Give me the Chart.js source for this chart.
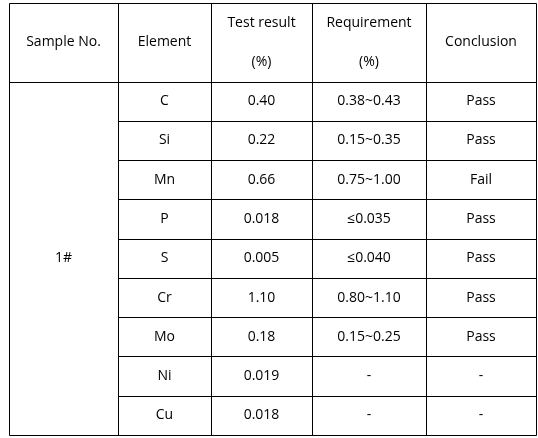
<!DOCTYPE html>
<html>
<head>
<meta charset="utf-8">
<script src="https://cdn.jsdelivr.net/npm/chart.js@4"></script>
<style>body{margin:0;background:#fff}</style>
</head>
<body>
<canvas id="tabla" width="538" height="438"></canvas>
<script>
// Datos de la tabla
var headers = [['Sample No.'], ['Element'], ['Test result', '(%)'], ['Requirement', '(%)'], ['Conclusion']];
var sampleNo = '1#';
var elements = ['C', 'Si', 'Mn', 'P', 'S', 'Cr', 'Mo', 'Ni', 'Cu'];
var results = ['0.40', '0.22', '0.66', '0.018', '0.005', '1.10', '0.18', '0.019', '0.018'];
var requirements = ['0.38~0.43', '0.15~0.35', '0.75~1.00', '≤0.035', '≤0.040', '0.80~1.10', '0.15~0.25', '-', '-'];
var conclusions = ['Pass', 'Pass', 'Fail', 'Pass', 'Pass', 'Pass', 'Pass', '-', '-'];
var colEdges = [0, 109, 202, 303, 417, 527];

var tablePlugin = {
    id: 'tabla',
    afterDraw: function(chart){
        var ctx = chart.ctx, x = chart.scales.x, y = chart.scales.y;
        var px = function(v){ return Math.round(x.getPixelForValue(v)) + 0.5; };
        var py = function(v){ return Math.round(y.getPixelForValue(v)) + 0.5; };
        var n = elements.length;
        ctx.save();
        ctx.strokeStyle = '#000';
        ctx.lineWidth = 1;
        ctx.beginPath();
        // verticales
        colEdges.forEach(function(e){ ctx.moveTo(px(e), py(0)); ctx.lineTo(px(e), py(n + 2)); });
        // horizontales
        ctx.moveTo(px(0), py(0)); ctx.lineTo(px(527), py(0));
        for (var i = 0; i <= n; i++) {
            var start = (i === 0 || i === n) ? 0 : colEdges[1];
            ctx.moveTo(px(start), py(i + 2)); ctx.lineTo(px(527), py(i + 2));
        }
        ctx.stroke();

        ctx.fillStyle = '#000';
        ctx.font = '14px "Open Sans", "Noto Sans", sans-serif';
        ctx.textAlign = 'center';
        ctx.textBaseline = 'middle';
        var cx = function(c){ return x.getPixelForValue((colEdges[c] + colEdges[c + 1]) / 2); };
        headers.forEach(function(h, c){
            if (h.length === 1) ctx.fillText(h[0], cx(c), y.getPixelForValue(1));
            else { ctx.fillText(h[0], cx(c), y.getPixelForValue(0.5)); ctx.fillText(h[1], cx(c), y.getPixelForValue(1.5)); }
        });
        ctx.fillText(sampleNo, cx(0), y.getPixelForValue(2 + n / 2));
        for (var r = 0; r < n; r++) {
            var yy = y.getPixelForValue(2.5 + r);
            ctx.fillText(elements[r], cx(1), yy);
            ctx.fillText(results[r], cx(2), yy);
            ctx.fillText(requirements[r], cx(3), yy);
            ctx.fillText(conclusions[r], cx(4), yy);
        }
        ctx.restore();
    }
};

new Chart(document.getElementById('tabla').getContext('2d'), {
    type: 'scatter',
    data: { datasets: [{ data: [] }] },
    options: {
        responsive: false,
        animation: false,
        layout: { padding: { left: 9, right: 2, top: 3, bottom: 3 } },
        plugins: { legend: { display: false }, tooltip: { enabled: false } },
        scales: {
            x: { type: 'linear', min: 0, max: 527, display: false },
            y: { type: 'linear', min: 0, max: 11, reverse: true, display: false }
        }
    },
    plugins: [tablePlugin]
});
</script>
</body>
</html>
